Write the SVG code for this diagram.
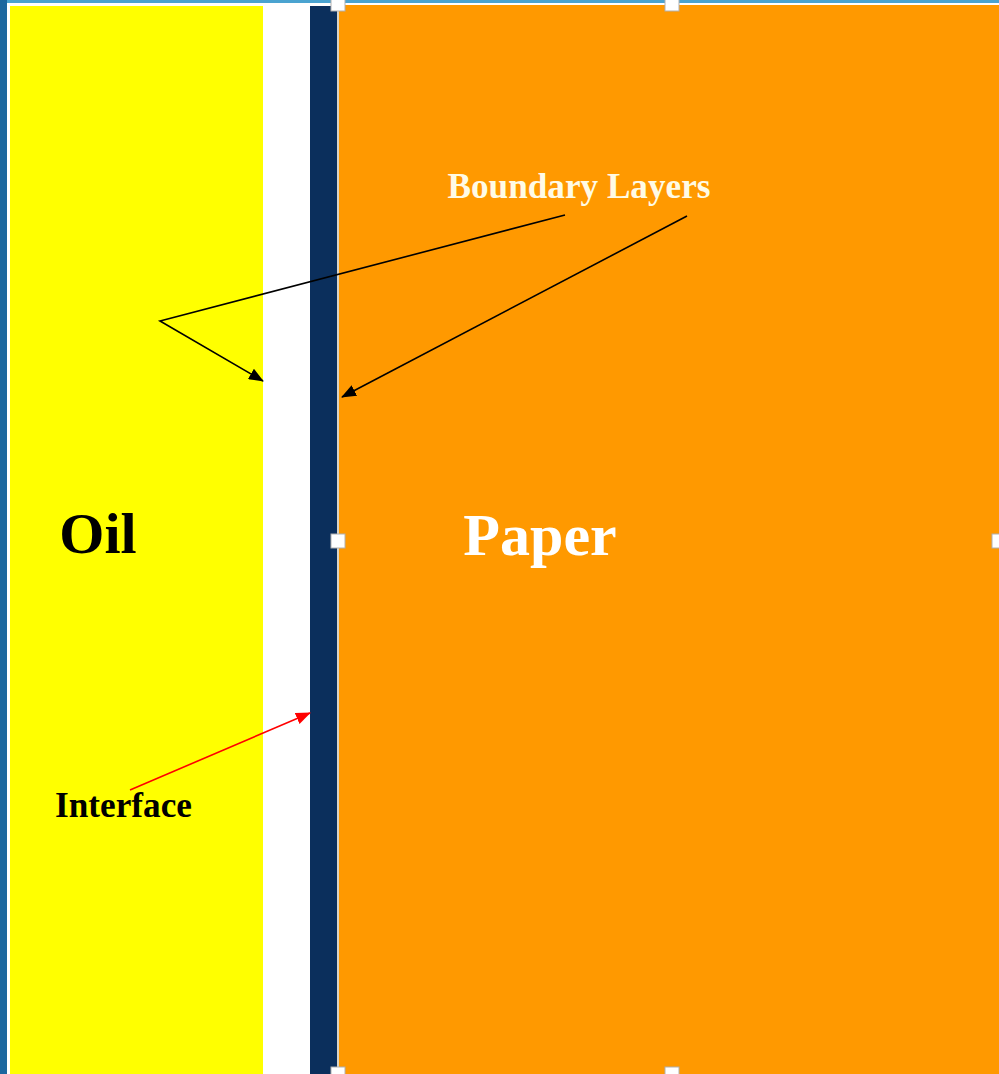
<svg xmlns="http://www.w3.org/2000/svg" width="999" height="1074" viewBox="0 0 999 1074">
  <defs>
    <marker id="ah" markerWidth="15" markerHeight="12" refX="14" refY="6" orient="auto" markerUnits="userSpaceOnUse">
      <path d="M0,0 L15,6 L0,12 Z" fill="#000"/>
    </marker>
    <marker id="ahr" markerWidth="15" markerHeight="12" refX="14" refY="6" orient="auto" markerUnits="userSpaceOnUse">
      <path d="M0,0 L15,6 L0,12 Z" fill="#ff0000"/>
    </marker>
  </defs>
  <style>
    .t { font-family: "Liberation Serif", "Times New Roman", serif; font-weight: bold; }
    .handle { fill: #ffffff; stroke: #b0b0b0; stroke-width: 1; }
    .conn { fill: none; stroke: #000; stroke-width: 1.6; }
  </style>
  <rect x="0" y="0" width="999" height="1074" fill="#ffffff"/>
  <rect x="0" y="0" width="999" height="3" fill="#4aa3d0"/>
  <rect x="0" y="0" width="7" height="1074" fill="#1b679f"/>
  <g id="oil">
    <rect x="10" y="6" width="253" height="1068" fill="#ffff00"/>
    <text class="t" x="98" y="553" font-size="58" text-anchor="middle" fill="#000">Oil</text>
  </g>
  <g id="boundary-gap">
    <rect x="263" y="6" width="47" height="1068" fill="#ffffff"/>
  </g>
  <g id="interface-bar">
    <rect x="310" y="6" width="27" height="1068" fill="#0b2f5c"/>
  </g>
  <g id="paper">
    <rect x="337" y="4" width="2" height="1070" fill="#d8d4c8"/>
    <rect x="339" y="5" width="660" height="1069" fill="#ff9900"/>
    <text class="t" x="540" y="555" font-size="60" text-anchor="middle" fill="#ffffff">Paper</text>
  </g>
  <g id="labels">
    <text class="t" x="579" y="198" font-size="35.2" text-anchor="middle" fill="#fffbe6">Boundary Layers</text>
    <text class="t" x="123.5" y="817" font-size="35.2" text-anchor="middle" fill="#000">Interface</text>
  </g>
  <g id="connectors">
    <polyline class="conn" points="565,215 160,321 263,381" marker-end="url(#ah)"/>
    <line class="conn" x1="687" y1="216" x2="342" y2="397" marker-end="url(#ah)"/>
    <line x1="130" y1="790" x2="310" y2="713" stroke="#ff0000" stroke-width="1.6" marker-end="url(#ahr)"/>
  </g>
  <g id="handles">
    <rect class="handle" x="331" y="-1" width="14" height="12"/>
    <rect class="handle" x="665" y="-1" width="14" height="12"/>
    <rect class="handle" x="331" y="534" width="14" height="14"/>
    <rect class="handle" x="992" y="534" width="14" height="14"/>
    <rect class="handle" x="331" y="1067" width="14" height="14"/>
    <rect class="handle" x="665" y="1067" width="14" height="14"/>
  </g>
</svg>
